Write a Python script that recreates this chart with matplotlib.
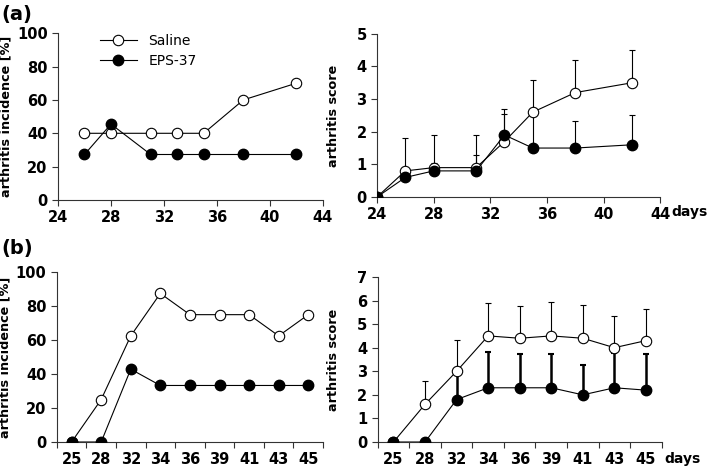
import numpy as np
import matplotlib
matplotlib.use("Agg")
import matplotlib.pyplot as plt

plt.rcParams['font.family'] = ['DejaVu Sans']
plt.rcParams['font.weight'] = 'bold'

# ---- (a) data ----
days_a = [26, 28, 31, 33, 35, 38, 42]
inc_saline_a = [40, 40, 40, 40, 40, 60, 70]
inc_eps_a = [27.3, 45.5, 27.3, 27.3, 27.3, 27.3, 27.3]

score_days_a = [24, 26, 28, 31, 33, 35, 38, 42]
score_saline_a = [0, 0.8, 0.9, 0.9, 1.7, 2.6, 3.2, 3.5]
err_saline_a = [0, 1.0, 1.0, 1.0, 1.0, 1.0, 1.0, 1.0]
score_eps_a = [0, 0.6, 0.8, 0.8, 1.9, 1.5, 1.5, 1.6]
err_eps_a = [0, 0.15, 0.25, 0.48, 0.65, 1.0, 0.83, 0.92]

# ---- (b) data ----
days_b = ['25', '28', '32', '34', '36', '39', '41', '43', '45']
inc_saline_b = [0, 25, 62.5, 87.5, 75, 75, 75, 62.5, 75]
inc_eps_b = [0, 0, 42.9, 33.3, 33.3, 33.3, 33.3, 33.3, 33.3]

score_saline_b = [0, 1.6, 3.0, 4.5, 4.4, 4.5, 4.4, 4.0, 4.3]
err_saline_b = [0, 1.0, 1.33, 1.38, 1.38, 1.45, 1.43, 1.35, 1.36]
score_eps_b = [0, 0, 1.8, 2.3, 2.3, 2.3, 2.0, 2.3, 2.2]
err_eps_b = [0, 0, 1.1, 1.53, 1.45, 1.45, 1.28, 1.46, 1.55]

fig = plt.figure(figsize=(7.1, 4.73), dpi=100)

ax_tl = fig.add_axes([0.0817, 0.577, 0.373, 0.353])
ax_tr = fig.add_axes([0.531, 0.5835, 0.399, 0.345])
ax_bl = fig.add_axes([0.080, 0.0655, 0.375, 0.359])
ax_br = fig.add_axes([0.532, 0.0655, 0.400, 0.349])

ms = 7.5
lw = 0.8
open_kw = dict(color='black', lw=lw, marker='o', ms=ms, mfc='white', mec='black', mew=0.8)
fill_kw = dict(color='black', lw=lw, marker='o', ms=ms, mfc='black', mec='black')
ylab_size = 9.2


def style(ax):
    for s in ['top', 'right']:
        ax.spines[s].set_visible(False)
    for s in ['left', 'bottom']:
        ax.spines[s].set_color('#333333')
        ax.spines[s].set_linewidth(0.8)
    ax.tick_params(direction='out', length=4, width=0.8, colors='#333333',
                   labelcolor='black', labelsize=10.5)
    for lab in ax.get_xticklabels() + ax.get_yticklabels():
        lab.set_fontweight('bold')


# top left: incidence (a)
ax_tl.plot(days_a, inc_saline_a, label='Saline', zorder=3, **open_kw)
ax_tl.plot(days_a, inc_eps_a, label='EPS-37', zorder=3, **fill_kw)
ax_tl.set_xlim(24, 44)
ax_tl.set_ylim(0, 100)
ax_tl.set_xticks(range(24, 45, 4))
ax_tl.set_yticks(range(0, 101, 20))
ax_tl.set_ylabel('arthritis incidence [%]', fontsize=ylab_size, fontweight='bold', labelpad=3)
ax_tl.legend(loc='upper left', bbox_to_anchor=(0.11, 1.07), frameon=False,
             handlelength=2.7, labelspacing=0.45, prop={'weight': 'normal', 'size': 10})
style(ax_tl)

# top right: score (a)
ax_tr.errorbar(score_days_a, score_saline_a, yerr=[np.zeros(len(err_saline_a)), err_saline_a],
               fmt='none', ecolor='black', elinewidth=0.8, capsize=2.5, capthick=0.8, zorder=2)
ax_tr.errorbar(score_days_a, score_eps_a, yerr=[np.zeros(len(err_eps_a)), err_eps_a],
               fmt='none', ecolor='black', elinewidth=0.8, capsize=2.5, capthick=0.8, zorder=2)
ax_tr.plot(score_days_a, score_saline_a, zorder=3, **open_kw)
ax_tr.plot(score_days_a, score_eps_a, zorder=4, **fill_kw)
ax_tr.set_xlim(24, 44)
ax_tr.set_ylim(0, 5)
ax_tr.set_xticks(range(24, 45, 4))
ax_tr.set_yticks(range(0, 6))
ax_tr.set_ylabel('arthritis score', fontsize=ylab_size, fontweight='bold', labelpad=12)
ax_tr.text(1.04, -0.052, 'days', transform=ax_tr.transAxes, ha='left', va='top',
           fontsize=10, fontweight='bold')
style(ax_tr)

# bottom left: incidence (b)
xb = np.arange(len(days_b))
ax_bl.plot(xb, inc_saline_b, zorder=3, **open_kw)
ax_bl.plot(xb, inc_eps_b, zorder=4, **fill_kw)
ax_bl.set_xlim(-0.5, len(days_b) - 0.5)
ax_bl.set_ylim(0, 100)
ax_bl.set_xticks(xb)
ax_bl.set_xticklabels(days_b)
ax_bl.set_xticks(np.arange(-0.5, len(days_b)), minor=True)
ax_bl.set_yticks(range(0, 101, 20))
ax_bl.set_ylabel('arthritis incidence [%]', fontsize=ylab_size, fontweight='bold', labelpad=3)
style(ax_bl)
ax_bl.tick_params(axis='x', which='minor', direction='out', length=4, width=0.8, colors='#333333')
ax_bl.tick_params(axis='x', which='major', length=0, pad=7)

# bottom right: score (b)
ax_br.errorbar(xb, score_saline_b, yerr=[np.zeros(len(err_saline_b)), err_saline_b],
               fmt='none', ecolor='black', elinewidth=0.8, capsize=2.5, capthick=0.8, zorder=2)
ax_br.errorbar(xb, score_eps_b, yerr=[np.zeros(len(err_eps_b)), err_eps_b],
               fmt='none', ecolor='black', elinewidth=1.8, capsize=2.5, capthick=1.5, zorder=2)
ax_br.plot(xb, score_saline_b, zorder=3, **open_kw)
ax_br.plot(xb, score_eps_b, zorder=4, **fill_kw)
ax_br.set_xlim(-0.5, len(days_b) - 0.5)
ax_br.set_ylim(0, 7)
ax_br.set_xticks(xb)
ax_br.set_xticklabels(days_b)
ax_br.set_xticks(np.arange(-0.5, len(days_b)), minor=True)
ax_br.set_yticks(range(0, 8))
ax_br.set_ylabel('arthritis score', fontsize=ylab_size, fontweight='bold', labelpad=12)
ax_br.text(1.01, -0.06, 'days', transform=ax_br.transAxes, ha='left', va='top',
           fontsize=10, fontweight='bold')
style(ax_br)
ax_br.tick_params(axis='x', which='minor', direction='out', length=4, width=0.8, colors='#333333')
ax_br.tick_params(axis='x', which='major', length=0, pad=7)

fig.text(0.002, 0.99, '(a)', fontsize=14, fontweight='bold', ha='left', va='top')
fig.text(0.002, 0.495, '(b)', fontsize=14, fontweight='bold', ha='left', va='top')

fig.savefig('out.png', dpi=100, facecolor='white')
